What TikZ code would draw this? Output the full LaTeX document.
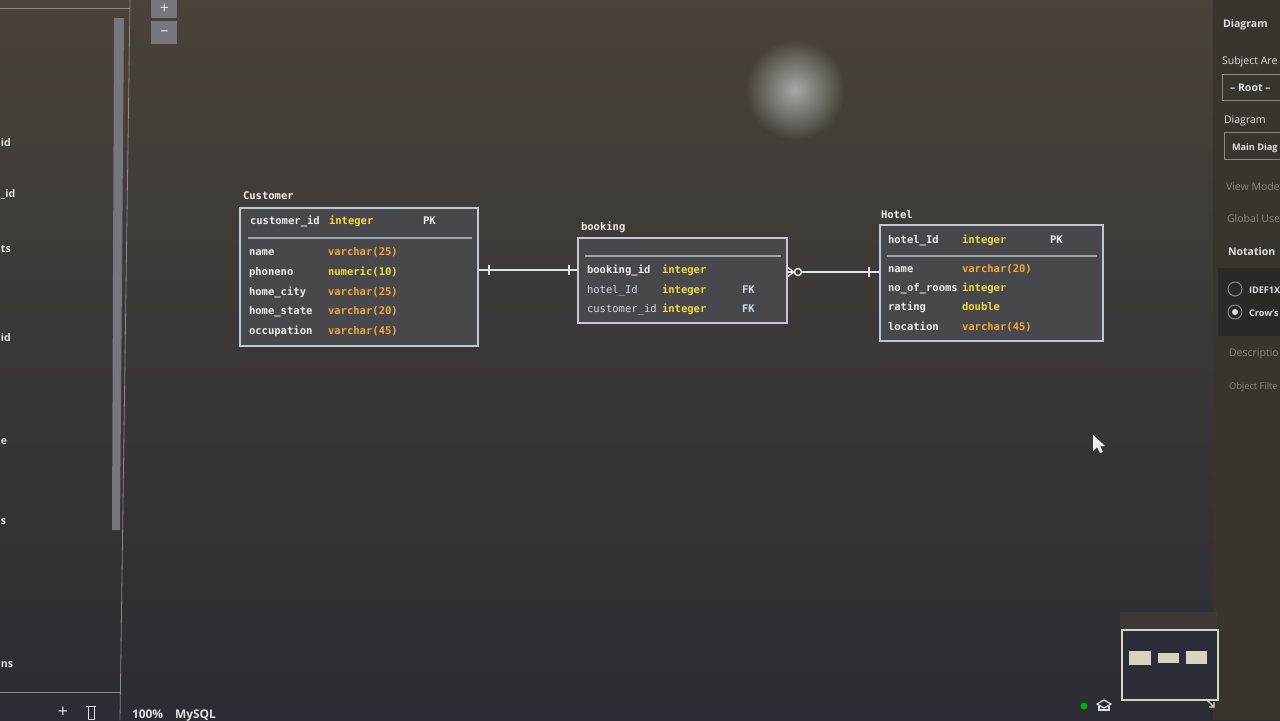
\documentclass[tikz,border=0pt]{standalone}
\usepackage{fontspec}
\setmainfont{Open Sans}
\newfontfamily\ermono{DejaVu Sans Mono}
\usetikzlibrary{positioning,fadings}

\newlength{\du}
\setlength{\du}{0.02cm}

\definecolor{canvastop}{RGB}{72,66,57}
\definecolor{canvasbottom}{RGB}{44,44,52}
\definecolor{canvasmid}{RGB}{60,57,55}
\definecolor{panelcolor}{RGB}{58,52,46}
\definecolor{panelband}{RGB}{44,40,37}
\definecolor{tablefill}{RGB}{72,71,75}
\definecolor{framecolor}{RGB}{190,200,212}
\definecolor{sepcolor}{RGB}{160,166,176}
\definecolor{linecolor}{RGB}{226,229,232}
\definecolor{namecolor}{RGB}{238,238,238}
\definecolor{fkcolor}{RGB}{205,220,236}
\definecolor{intcolor}{RGB}{238,222,70}
\definecolor{varcolor}{RGB}{240,168,60}
\definecolor{uicolor}{RGB}{225,225,228}
\definecolor{uidim}{RGB}{140,136,132}
\definecolor{btncolor}{RGB}{118,118,124}
\definecolor{mapfill}{RGB}{44,45,56}
\definecolor{mapbox}{RGB}{214,214,192}

\tikzfading[name=glarefade, inner color=transparent!0, outer color=transparent!100]

\tikzset{
  tblbox/.style={draw=framecolor, line width=1.6\du, fill=tablefill, inner sep=0pt, outer sep=0pt, anchor=north west},
  erfont/.style={anchor=base west, inner sep=0pt, outer sep=0pt, font=\ermono\fontsize{6}{7}\selectfont},
  tbltitle/.style={erfont, text=namecolor, font=\ermono\bfseries\fontsize{6}{7}\selectfont},
  colname/.style={erfont, text=namecolor, font=\ermono\bfseries\fontsize{6}{7}\selectfont},
  colfk/.style={erfont, text=fkcolor},
  tint/.style={erfont, text=intcolor, font=\ermono\bfseries\fontsize{6}{7}\selectfont},
  tvar/.style={erfont, text=varcolor, font=\ermono\bfseries\fontsize{6}{7}\selectfont},
  keytag/.style={erfont, text=namecolor, font=\ermono\bfseries\fontsize{6}{7}\selectfont},
  fktag/.style={erfont, text=fkcolor, font=\ermono\bfseries\fontsize{6}{7}\selectfont},
  sepline/.style={draw=sepcolor, line width=1.4\du},
  rel/.style={draw=linecolor, line width=1.5\du},
  uitext/.style={anchor=base west, inner sep=0pt, outer sep=0pt, text=uicolor, font=\fontsize{6}{7}\selectfont},
  uibold/.style={uitext, font=\bfseries\fontsize{6}{7}\selectfont},
  uismall/.style={uitext, font=\bfseries\fontsize{5.2}{6}\selectfont},
  uidimtext/.style={uitext, text=uidim},
}

\begin{document}
\begin{tikzpicture}
% canvas
\useasboundingbox (0,0) rectangle (1280\du,-720\du);
\shade[top color=canvastop, bottom color=canvasbottom] (0,0) rectangle (1280\du,-720\du);
\pgftransformyscale{-1.000000}
\clip (0,0) rectangle (1280\du,720\du);
\fill[white, opacity=0.55, path fading=glarefade] (795\du,90\du) circle[radius=50\du];

% left panel
\draw[draw=uidim, line width=0.8\du] (0,8\du) -- (130\du,8\du);
\draw[draw=uidim, line width=0.8\du] (130\du,0) -- (120\du,720\du);
\fill[btncolor] (114\du,18\du) -- (124\du,18\du) -- (120\du,530\du) -- (112\du,530\du) -- cycle;
\draw[draw=uidim, line width=0.8\du] (0,692\du) -- (120\du,692\du);
\node[uibold] (lp1) at (1\du,146\du) {id};
\node[uibold] (lp2) at (1\du,197\du) {\_id};
\node[uibold] (lp3) at (1\du,252\du) {ts};
\node[uibold] (lp4) at (1\du,341\du) {id};
\node[uibold] (lp5) at (1\du,444\du) {e};
\node[uibold] (lp6) at (1\du,524\du) {s};
\node[uibold] (lp7) at (1\du,667\du) {ns};
\node[uitext, anchor=center, font=\fontsize{10}{10}\selectfont] (addbtn) at (63\du,712\du) {+};
\draw[draw=uicolor, line width=1\du] (86\du,706\du) -- (96\du,706\du) (88\du,706\du) rectangle (94\du,719\du);
\node[uibold, font=\bfseries\fontsize{6.8}{8}\selectfont] (zoomlevel) at (132\du,718\du) {100\%};
\node[uibold, font=\bfseries\fontsize{6.8}{8}\selectfont] (dbname) at (175\du,718\du) {MySQL};

% zoom buttons
\node[fill=btncolor, minimum width=26\du, minimum height=20\du, inner sep=0pt, anchor=north west, text=uicolor, font=\fontsize{9}{9}\selectfont] (zoomin) at (151\du,-2\du) {+};
\node[fill=btncolor, minimum width=26\du, minimum height=23\du, inner sep=0pt, anchor=north west, text=uicolor, font=\fontsize{9}{9}\selectfont] (zoomout) at (151\du,21\du) {--};

% right panel
\fill[panelcolor] (1213\du,0) rectangle (1280\du,720\du);
\fill[panelband] (1218\du,268\du) rectangle (1280\du,336\du);
\node[uibold] (pn-title) at (1223\du,28\du) {Diagram};
\node[uitext] (pn-area) at (1222\du,64\du) {Subject Are};
\node[draw=uidim, line width=0.8\du, minimum width=70\du, minimum height=26\du, anchor=north west, inner sep=0pt] (pn-areabox) at (1222\du,74\du) {};
\node[uibold] (pn-root) at (1230\du,91\du) {-- Root --};
\node[uitext] (pn-diag) at (1224\du,123\du) {Diagram};
\node[draw=uidim, line width=0.8\du, minimum width=70\du, minimum height=27\du, anchor=north west, inner sep=0pt] (pn-diagbox) at (1224\du,132\du) {};
\node[uismall] (pn-main) at (1232\du,150\du) {Main Diag};
\node[uidimtext] (pn-view) at (1226\du,190\du) {View Mode};
\node[uidimtext] (pn-global) at (1227\du,222\du) {Global Use};
\node[uibold] (pn-notation) at (1228\du,255\du) {Notation};
\draw[draw=uidim, line width=1\du] (1235\du,289\du) circle[radius=7\du];
\draw[draw=uidim, line width=1\du] (1235\du,312\du) circle[radius=7\du];
\fill[uicolor] (1235\du,312\du) circle[radius=3\du];
\node[uismall] (pn-idef) at (1249\du,293\du) {IDEF1X};
\node[uismall] (pn-crow) at (1249\du,316\du) {Crow's};
\node[uidimtext] (pn-desc) at (1229\du,356\du) {Descriptio};
\node[uidimtext, font=\fontsize{5.3}{6}\selectfont] (pn-filter) at (1229\du,389\du) {Object Filte};

% Customer
\node[tbltitle] (customer-title) at (243\du,199\du) {Customer};
\node[tblbox, minimum width=238\du, minimum height=138\du] (customer) at (240\du,208\du) {};
\node[colname] (cust-pk) at (250\du,224\du) {customer\_id};
\node[tint] (cust-pktype) at (329\du,224\du) {integer};
\node[keytag] (cust-pktag) at (423\du,224\du) {PK};
\draw[sepline] (248\du,238\du) -- (472\du,238\du);
\foreach \fname/\ftype/\fstyle/\ypos [count=\i] in {name/varchar(25)/tvar/255, phoneno/numeric(10)/tint/275, home\_city/varchar(25)/tvar/295, home\_state/varchar(20)/tvar/314, occupation/varchar(45)/tvar/334}
{
  \node[colname] (cust-name\i) at (249\du,\ypos\du) {\fname};
  \node[\fstyle] (cust-type\i) at (328\du,\ypos\du) {\ftype};
}

% booking
\node[tbltitle] (booking-title) at (581\du,230\du) {booking};
\node[tblbox, minimum width=209\du, minimum height=85\du] (booking) at (578\du,238\du) {};
\draw[sepline] (585\du,256\du) -- (781\du,256\du);
\node[colname] (bk-name1) at (587\du,273\du) {booking\_id};
\node[tint] (bk-type1) at (662\du,273\du) {integer};
\node[colfk] (bk-name2) at (587\du,293\du) {hotel\_Id};
\node[tint] (bk-type2) at (662\du,293\du) {integer};
\node[fktag] (bk-fk2) at (742\du,293\du) {FK};
\node[colfk] (bk-name3) at (587\du,312\du) {customer\_id};
\node[tint] (bk-type3) at (662\du,312\du) {integer};
\node[fktag] (bk-fk3) at (742\du,312\du) {FK};

% Hotel
\node[tbltitle] (hotel-title) at (881\du,218\du) {Hotel};
\node[tblbox, minimum width=223\du, minimum height=116\du] (hotel) at (880\du,225\du) {};
\node[colname] (hot-pk) at (888\du,243\du) {hotel\_Id};
\node[tint] (hot-pktype) at (962\du,243\du) {integer};
\node[keytag] (hot-pktag) at (1050\du,243\du) {PK};
\draw[sepline] (887\du,256\du) -- (1097\du,256\du);
\foreach \fname/\ftype/\fstyle/\ypos [count=\i] in {name/varchar(20)/tvar/272, no\_of\_rooms/integer/tint/291, rating/double/tint/310, location/varchar(45)/tvar/330}
{
  \node[colname] (hot-name\i) at (888\du,\ypos\du) {\fname};
  \node[\fstyle] (hot-type\i) at (962\du,\ypos\du) {\ftype};
}

% relationships
\coordinate (rowcb) at (0,270\du);
\coordinate (rowbh) at (0,272\du);
\draw[rel] (customer.east |- rowcb) coordinate (cb-a) -- (booking.west |- rowcb) coordinate (cb-b);
\draw[rel] (cb-a) ++(11\du,-5\du) -- ++(0,10\du);
\draw[rel] (cb-b) ++(-9\du,-5\du) -- ++(0,10\du);
\draw[rel] (booking.east |- rowbh) coordinate (bh-a) -- (hotel.west |- rowbh) coordinate (bh-b);
\draw[rel] (bh-a) ++(0,-5\du) -- ++(7\du,5\du) -- ++(-7\du,5\du);
\draw[rel, fill=canvasmid] (bh-a) ++(11\du,0) circle[radius=3.5\du];
\draw[rel] (bh-b) ++(-11\du,-5\du) -- ++(0,10\du);

% cursor
\fill[namecolor] (1093\du,435\du) -- (1093\du,451\du) -- (1097\du,447\du) -- (1100\du,453\du) -- (1103\du,452\du) -- (1100\du,446\du) -- (1105\du,446\du) -- cycle;

% minimap
\fill[canvasmid] (1120\du,612\du) rectangle (1217\du,629\du);
\node[draw=mapbox, line width=2\du, fill=mapfill, minimum width=96\du, minimum height=70\du, inner sep=0pt, anchor=north west] (minimap) at (1121\du,629\du) {};
\fill[mapbox] (1129\du,651\du) rectangle (1151\du,665\du);
\fill[mapbox] (1158\du,653\du) rectangle (1179\du,663\du);
\fill[mapbox] (1186\du,651\du) rectangle (1207\du,664\du);
\draw[draw=mapbox, line width=1.4\du] (1206\du,699\du) -- (1214\du,707\du) (1209\du,707\du) -- (1214\du,707\du) -- (1214\du,702\du);
\fill[green!70!black] (1084\du,706\du) circle[radius=3.5\du];
\draw[draw=uicolor, line width=1.2\du] (1097\du,704\du) -- (1104\du,700\du) -- (1111\du,704\du) -- (1104\du,708\du) -- cycle;
\draw[draw=uicolor, line width=1.2\du] (1099\du,706\du) -- (1099\du,710\du) -- (1109\du,710\du) -- (1109\du,706\du);
\end{tikzpicture}
\end{document}
